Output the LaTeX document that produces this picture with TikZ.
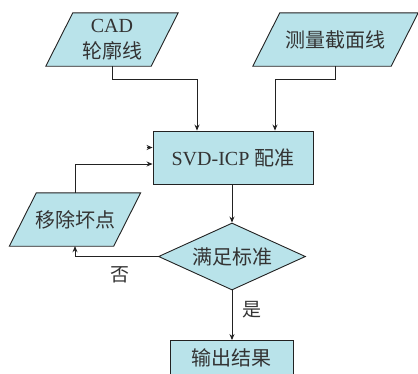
\documentclass[tikz,border=0pt]{standalone}
\usepackage{fontspec}
\setmainfont{Liberation Serif}
\newfontfamily\cjk{Noto Sans CJK SC}
\usetikzlibrary{shapes.geometric,arrows.meta,backgrounds,calc}
\definecolor{boxfill}{HTML}{B9E3EA}
\definecolor{txt}{HTML}{333333}
\definecolor{edge}{HTML}{222222}
\tikzset{
  every node/.style={text=txt},
  basebox/.style={draw=edge,fill=boxfill,line width=0.9pt,inner sep=0pt},
  procbox/.style={basebox,rectangle},
  decbox/.style={basebox,diamond,aspect=2.2},
  iobox/.style={rectangle,inner sep=0pt},
  parafill/.style={draw=edge,fill=boxfill,line width=0.9pt,line join=miter},
  conn/.style={draw=edge,line width=0.8pt,-{Stealth[length=6pt,width=5pt]}},
  lbl/.style={font=\cjk\fontsize{19pt}{21pt}\selectfont,text=txt},
  txtf/.style={font=\cjk\fontsize{20pt}{24pt}\selectfont},
}
\begin{document}
\begin{tikzpicture}[x=1pt,y=-1pt]
\useasboundingbox (0,0) rectangle (418,373);
\clip (0,0) rectangle (418,373);
% parallelogram nodes
\node[iobox,minimum width=105pt,minimum height=53pt,align=center,txtf] (cad) at (112,39.5)
  {\fontspec{Liberation Serif}\fontsize{20pt}{24pt}\selectfont CAD\\[2pt]轮廓线};
\node[iobox,minimum width=138pt,minimum height=53pt,txtf] (meas) at (335.5,39.5) {测量截面线};
\node[iobox,minimum width=104pt,minimum height=53pt,txtf] (rm) at (75,219.5) {移除坏点};
\begin{scope}[on background layer]
\foreach \n in {cad,meas,rm}{
  \draw[parafill] ([xshift=13.5pt]\n.north west) -- ([xshift=13.5pt]\n.north east)
     -- ([xshift=-13.5pt]\n.south east) -- ([xshift=-13.5pt]\n.south west) -- cycle;
}
\end{scope}
\node[procbox,minimum width=160pt,minimum height=53pt] (svd) at (233,157.5)
  {\fontsize{20pt}{24pt}\selectfont SVD-ICP {\cjk 配准}};
\node[decbox,minimum width=147pt,minimum height=67pt,txtf] (dec) at (232,256.5) {满足标准};
\node[procbox,minimum width=123pt,minimum height=34pt,txtf] (out) at (231.5,357.5) {输出结果};
% helper coordinates
\coordinate (c1) at (112,79);
\coordinate (c2) at (335.5,79);
\coordinate (stub) at (147,147.5);
% connectors
\draw[conn] (cad.south) |- (c1) -| ([xshift=-36pt]svd.north);
\draw[conn] (meas.south) |- (c2) -| ([xshift=42pt]svd.north);
\draw[conn] (rm.north) |- ([yshift=-6.5pt]svd.west);
\draw[conn] (stub) -- (stub -| svd.west);
\draw[conn] (svd.south -| dec.north) -- (dec.north);
\draw[conn] (dec.west) -| (rm.south);
\draw[conn] (dec.south) -- (out.north -| dec.south);
\node[lbl] (no) at (120,275) {否};
\node[lbl] (yes) at (252,310) {是};
\end{tikzpicture}
\end{document}
